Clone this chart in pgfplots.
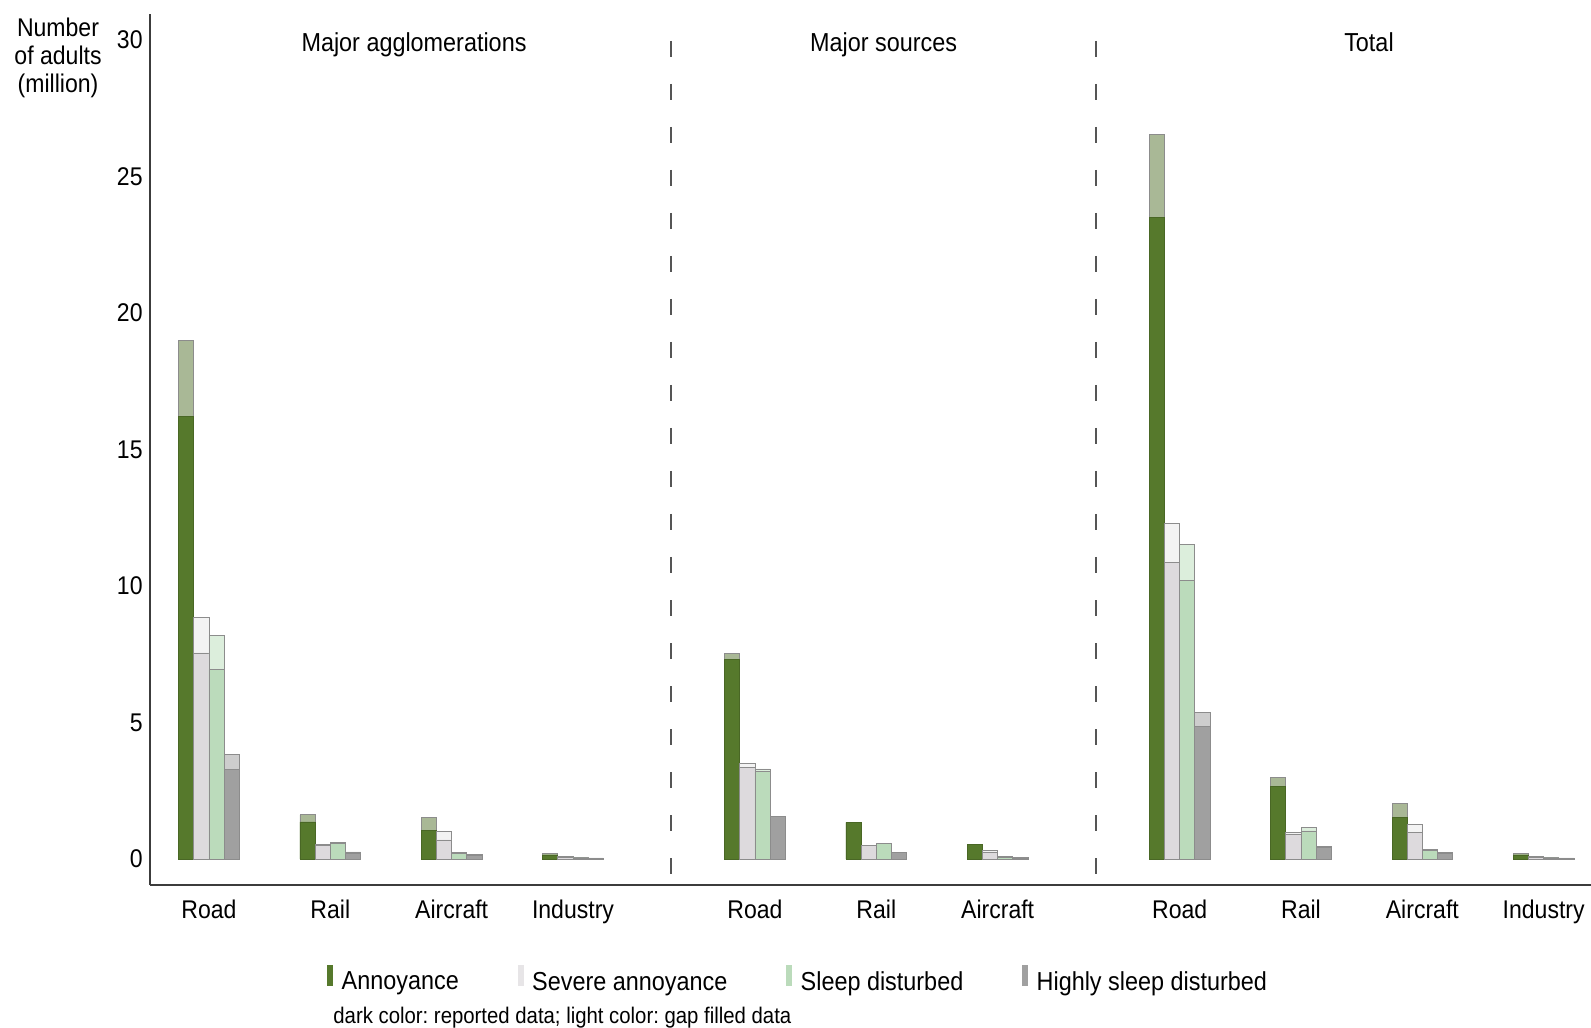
\documentclass[border=0pt]{standalone}
\usepackage{pgfplots}
\pgfplotsset{compat=1.18}
\usepackage{pgfplotstable}
\usepackage{fontspec}
\setmainfont{Liberation Sans}[FakeStretch=0.9]
\frenchspacing

\definecolor{annoyRep}{HTML}{56792C}
\definecolor{annoyGap}{HTML}{A9B896}
\definecolor{sevRep}{HTML}{DDDADD}
\definecolor{sevGap}{HTML}{F3F3F3}
\definecolor{sleepRep}{HTML}{BBDBBB}
\definecolor{sleepGap}{HTML}{DCEEDC}
\definecolor{highRep}{HTML}{A0A0A0}
\definecolor{highGap}{HTML}{CDCDCD}
\definecolor{edge}{HTML}{8C8C8C}
\definecolor{axisgray}{HTML}{3C3C3C}
\definecolor{sepgray}{HTML}{555555}

% x: 0-3 major agglomerations, 4.5-6.5 major sources, 8-11 total
% total = reported + gap filled, rep = reported only (million adults)
\pgfplotstableread{
x    total  rep
0    19.00  16.22
1    1.62   1.36
2    1.53   1.04
3    0.21   0.15
4.5  7.53   7.31
5.5  1.34   1.34
6.5  0.52   0.52
8    26.55  23.50
9    2.99   2.66
10   2.03   1.51
11   0.21   0.15
}\annoy

\pgfplotstableread{
x    total  rep
0    8.84   7.55
1    0.54   0.50
2    1.00   0.70
3    0.08   0.06
4.5  3.49   3.36
5.5  0.50   0.50
6.5  0.33   0.23
8    12.28  10.85
9    0.99   0.90
10   1.28   0.98
11   0.08   0.06
}\severe

\pgfplotstableread{
x    total  rep
0    8.18   6.94
1    0.62   0.57
2    0.25   0.20
3    0.05   0.04
4.5  3.30   3.21
5.5  0.56   0.56
6.5  0.08   0.06
8    11.52  10.20
9    1.17   1.03
10   0.36   0.30
11   0.05   0.04
}\sleep

\pgfplotstableread{
x    total  rep
0    3.83   3.27
1    0.26   0.20
2    0.17   0.13
3    0.04   0.03
4.5  1.57   1.55
5.5  0.23   0.23
6.5  0.05   0.04
8    5.38   4.85
9    0.46   0.42
10   0.25   0.22
11   0.04   0.03
}\highly

\begin{document}
\begin{tikzpicture}
\useasboundingbox (0,0) rectangle (795.5bp,514bp);
\begin{axis}[
  at={(75bp,71.5bp)}, anchor=south west,
  scale only axis, width=720.5bp, height=435.5bp,
  xmin=-0.486, xmax=11.39, ymin=-0.95, ymax=30.95,
  axis x line*=bottom, axis y line*=left,
  axis line style={-, draw=axisgray, line width=1bp},
  ytick={0,5,10,15,20,25,30},
  xtick={0,1,2,3,4.5,5.5,6.5,8,9,10,11},
  xticklabels={Road,Rail,Aircraft,Industry,Road,Rail,Aircraft,Road,Rail,Aircraft,Industry},
  major tick length=0pt,
  tick label style={font=\fontsize{12.8bp}{14bp}\selectfont},
  /pgf/number format/assume math mode=true,
  yticklabel style={inner sep=0pt, xshift=-3.5bp},
  xticklabel style={inner sep=0pt, yshift=-7.5bp},
  clip=false,
  legend columns=4,
  legend cell align=left,
  legend image code/.code={\path[#1, draw=none] (0bp,-1.5bp) rectangle (3bp,9bp); \path (5bp,0bp);},
  legend style={at={(rel axis cs:0.1228,-0.1102)}, anchor=west,
    draw=none, fill=none, inner sep=0pt,
    font=\fontsize{13bp}{15bp}\selectfont,
    /tikz/every even column/.append style={column sep=27.5bp}},
  bar width=0.125,
]
% separators between the three groups
\addplot[sepgray, line width=0.9bp, dash pattern=on 8bp off 13.5bp, dash phase=8bp, forget plot]
  coordinates {(3.81,30.95) (3.81,-0.95)};
\addplot[sepgray, line width=0.9bp, dash pattern=on 8bp off 13.5bp, dash phase=8bp, forget plot]
  coordinates {(7.31,30.95) (7.31,-0.95)};

% annoyance
\addplot[ybar, bar width=0.125, bar shift=-0.1875, fill=annoyGap, draw=edge, line width=0.4bp, forget plot]
  table[x=x, y=total]{\annoy};
\addplot[ybar, bar width=0.125, bar shift=-0.1875, fill=annoyRep, draw=annoyRep!85!black, line width=0.4bp, forget plot]
  table[x=x, y=rep]{\annoy};
% severe annoyance
\addplot[ybar, bar width=0.125, bar shift=-0.0625, fill=sevGap, draw=edge, line width=0.4bp, forget plot]
  table[x=x, y=total]{\severe};
\addplot[ybar, bar width=0.125, bar shift=-0.0625, fill=sevRep, draw=edge, line width=0.4bp, forget plot]
  table[x=x, y=rep]{\severe};
% sleep disturbed
\addplot[ybar, bar width=0.125, bar shift=0.0625, fill=sleepGap, draw=edge, line width=0.4bp, forget plot]
  table[x=x, y=total]{\sleep};
\addplot[ybar, bar width=0.125, bar shift=0.0625, fill=sleepRep, draw=edge, line width=0.4bp, forget plot]
  table[x=x, y=rep]{\sleep};
% highly sleep disturbed
\addplot[ybar, bar width=0.125, bar shift=0.1875, fill=highGap, draw=edge, line width=0.4bp, forget plot]
  table[x=x, y=total]{\highly};
\addplot[ybar, bar width=0.125, bar shift=0.1875, fill=highRep, draw=edge, line width=0.4bp, forget plot]
  table[x=x, y=rep]{\highly};

\addlegendimage{fill=annoyRep}
\addlegendentry{Annoyance}
\addlegendimage{fill=sevRep!70!white}
\addlegendentry{Severe annoyance}
\addlegendimage{fill=sleepRep}
\addlegendentry{Sleep disturbed}
\addlegendimage{fill=highRep}
\addlegendentry{Highly sleep disturbed}

% group titles
\node[anchor=base, inner sep=0pt, font=\fontsize{13bp}{15bp}\selectfont] at (axis cs:1.69,29.58) {Major agglomerations};
\node[anchor=base, inner sep=0pt, font=\fontsize{13bp}{15bp}\selectfont] at (axis cs:5.56,29.58) {Major sources};
\node[anchor=base, inner sep=0pt, font=\fontsize{13bp}{15bp}\selectfont] at (axis cs:9.56,29.58) {Total};

% y axis title
\node[align=center, inner sep=0pt, font=\fontsize{12.8bp}{14bp}\selectfont] at (axis cs:-1.244,29.34)
  {Number\\of adults\\(million)};

% note below the legend
\node[anchor=west, inner sep=0pt, font=\fontsize{11.3bp}{13bp}\selectfont] at (rel axis cs:0.127,-0.1525)
  {dark color: reported data; light color: gap filled data};
\end{axis}
\end{tikzpicture}
\end{document}
